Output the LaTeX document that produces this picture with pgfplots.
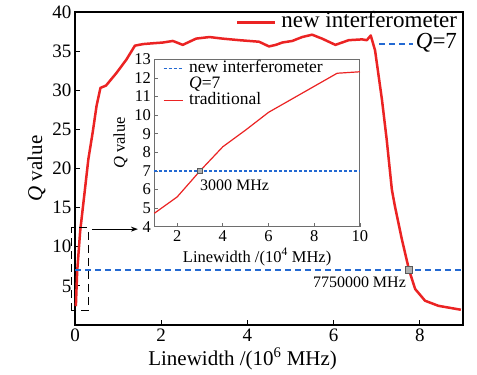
\documentclass[border=0pt]{standalone}
\usepackage{fontspec}
\setmainfont{Liberation Serif}
\usepackage{pgfplots}
\pgfplotsset{compat=1.18}
\usetikzlibrary{arrows.meta}
\definecolor{qred}{RGB}{235,35,35}
\definecolor{qblue}{RGB}{35,105,210}
\definecolor{framegray}{RGB}{110,110,110}
\definecolor{markgray}{RGB}{175,175,175}
\begin{document}
\begin{tikzpicture}
\begin{axis}[
  name=main,
  at={(0,0)}, anchor=south west,
  scale only axis, width=388bp, height=313bp,
  xmin=0, xmax=9, ymin=0, ymax=40,
  xtick={0,2,4,6,8}, ytick={5,10,15,20,25,30,35,40},
  xticklabels={0,2,4,6,8}, yticklabels={5,10,15,20,25,30,35,40},
  tick pos=left, tick align=inside,
  major tick length=5bp,
  axis line style={line width=1.3bp},
  tick style={line width=1.1bp, black},
  tick label style={font=\fontsize{19bp}{22bp}\selectfont},
  label style={font=\fontsize{21bp}{24bp}\selectfont},
  xlabel={Linewidth /(10\textsuperscript{6} MHz)},
  ylabel={\textit{Q} value},
  xlabel style={at={(ticklabel cs:0.432)}},
  clip=false,
  legend cell align=right,
  legend style={at={(rel axis cs:1,1)}, anchor=north east, xshift=-6bp, yshift=-0.5bp,
    draw=none, fill=none, inner sep=0pt, outer sep=0pt, row sep=0.5bp,
    font=\fontsize{23bp}{25bp}\selectfont,
    nodes={inner sep=0pt, text height=15.5bp, text depth=5bp},
    /tikz/every odd column/.append style={column sep=5bp}},
]
\addplot[qred, line width=2.5bp, line join=round,
  legend image code/.code={\draw (0bp,0bp) -- (38bp,0bp);}]
coordinates {
(0.02,2.4) (0.05,6.8) (0.12,12.0) (0.23,17.3) (0.31,21.2) (0.41,24.6)
(0.50,28.0) (0.59,30.3) (0.72,30.6) (0.96,32.2) (1.19,33.9) (1.39,35.7)
(1.58,35.9) (1.80,36.0) (2.04,36.1) (2.27,36.3) (2.50,35.8) (2.81,36.6)
(3.12,36.8) (3.42,36.6) (3.81,36.4) (4.27,36.2) (4.50,35.6) (4.66,35.8)
(4.81,36.1) (5.04,36.3) (5.27,36.8) (5.50,37.1) (5.73,36.6) (6.04,35.8)
(6.35,36.4) (6.66,36.5) (6.77,36.4) (6.86,37.0) (6.96,35.1) (7.12,28.8)
(7.23,23.7) (7.35,17.3) (7.42,15.2) (7.58,11.0) (7.75,7.0) (7.89,4.6)
(8.12,3.1) (8.43,2.45) (8.95,1.95)
};
\addlegendentry{new interferometer}
\addplot[qblue, line width=2.2bp, dash pattern=on 6bp off 4bp,
  legend image code/.code={\draw[overlay] (142bp,0bp) -- (176bp,0bp);}]
coordinates {(0,7) (9,7)};
\addlegendentry{\textit{Q}=7}
\addplot[only marks, mark=square*, mark size=3.5bp, mark options={fill=markgray, draw=gray!70!black, line width=0.6bp}, forget plot]
coordinates {(7.75,7)};
\draw[black, line width=1.2bp, dash pattern=on 8bp off 5bp] (axis cs:-0.076,1.81) rectangle (axis cs:0.307,12.45);
\draw[black, line width=1bp, -{Stealth[length=7bp,width=5bp]}] (axis cs:0.39,12.25) -- (axis cs:1.46,12.25);
\node[anchor=east, inner sep=0pt, font=\fontsize{16bp}{18bp}\selectfont] at (axis cs:7.68,5.4) {7750000 MHz};
\end{axis}
\begin{axis}[
  name=inset,
  at={(79.3bp,98.3bp)}, anchor=south west,
  scale only axis, width=205.7bp, height=167.4bp,
  xmin=1, xmax=10, ymin=4, ymax=13,
  xtick={2,4,6,8,10}, ytick={4,5,6,7,8,9,10,11,12,13},
  xticklabels={2,4,6,8,10}, yticklabels={4,5,6,7,8,9,10,11,12,13},
  tick pos=left, tick align=inside,
  major tick length=4bp,
  axis line style={framegray, line width=1bp},
  tick style={framegray, line width=0.8bp},
  axis background/.style={fill=white},
  tick label style={font=\fontsize{16.5bp}{18bp}\selectfont},
  label style={font=\fontsize{16.5bp}{18bp}\selectfont},
  xlabel={Linewidth /(10\textsuperscript{4} MHz)},
  ylabel={\textit{Q} value},
  clip=false,
  legend cell align=left,
  legend style={at={(rel axis cs:0,1)}, anchor=north west, xshift=8.7bp, yshift=-1.4bp,
    draw=none, fill=none, inner sep=0pt, outer sep=0pt, row sep=0bp,
    font=\fontsize{17.5bp}{19bp}\selectfont,
    nodes={inner sep=0pt, text height=12bp, text depth=4bp},
    /tikz/every odd column/.append style={column sep=6bp}},
]
\addplot[qblue, line width=1.2bp, dash pattern=on 3bp off 2bp,
  legend image code/.code={\draw (0bp,0bp) -- (19bp,0bp);}]
coordinates {(1,7) (10,7)};
\addlegendentry{new interferometer}
\addlegendimage{empty legend}
\addlegendentry{\textit{Q}=7}
\addplot[qred, line width=1.2bp,
  legend image code/.code={\draw (0bp,0bp) -- (19bp,0bp);}]
coordinates {
(1,4.72) (2,5.6) (3,7.0) (4,8.3) (5,9.2) (6,10.15) (7,10.85) (8,11.55) (9,12.25) (10,12.33)
};
\addlegendentry{traditional}
\addplot[only marks, mark=square*, mark size=2.6bp, mark options={fill=markgray, draw=gray!70!black, line width=0.5bp}, forget plot]
coordinates {(3,7)};
\node[anchor=west, inner sep=0pt, font=\fontsize{16bp}{18bp}\selectfont] at (axis cs:3.0,6.25) {3000 MHz};
\end{axis}
\pgfresetboundingbox
\path[use as bounding box] (-75bp,-50bp) rectangle (402bp,325bp);
\end{tikzpicture}
\end{document}
